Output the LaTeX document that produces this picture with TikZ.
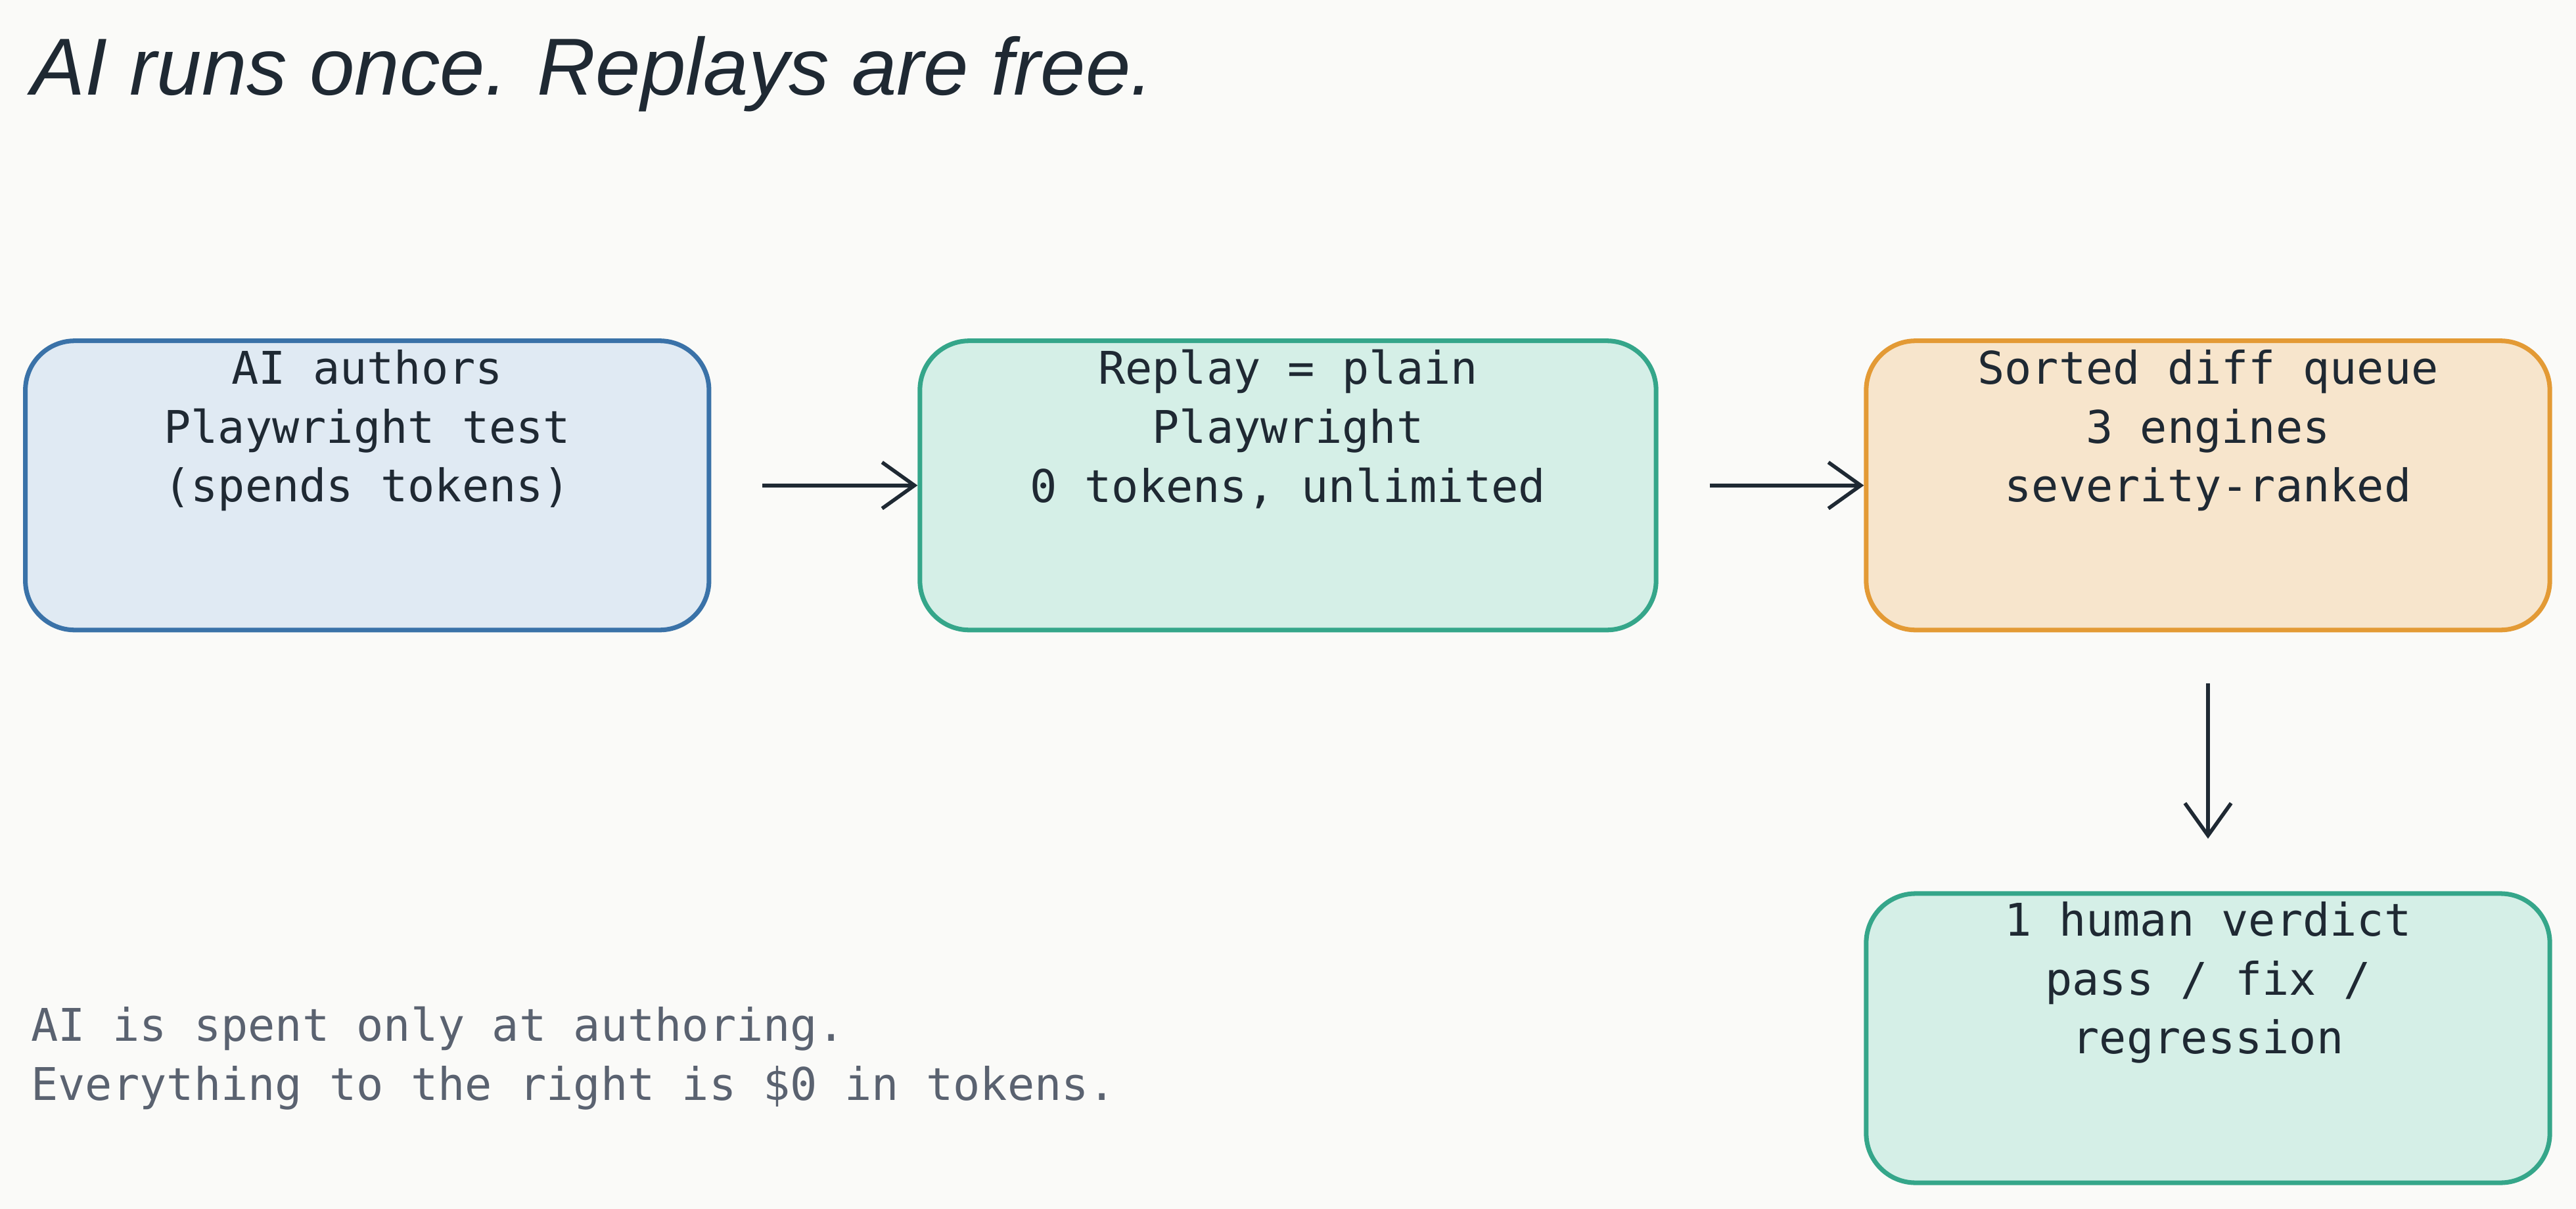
\documentclass[tikz,border=0pt]{standalone}
\usepackage{fontspec}
\setmainfont{Liberation Sans}
\setmonofont{DejaVu Sans Mono}
\usetikzlibrary{arrows.meta}
\definecolor{bgc}{HTML}{FAFAF8}
\definecolor{inkc}{HTML}{1F2933}
\definecolor{grayc}{HTML}{5A6270}
\definecolor{bluefill}{HTML}{E0EAF3}
\definecolor{blueline}{HTML}{3A72A8}
\definecolor{greenfill}{HTML}{D5EFE7}
\definecolor{greenline}{HTML}{35A68A}
\definecolor{orangefill}{HTML}{F7E5CC}
\definecolor{orangeline}{HTML}{E39A35}
\tikzset{
  box/.style={draw, line width=2pt, rounded corners=0.75cm, minimum width=#1, minimum height=4.4cm,
    inner sep=0pt},
  boxtext/.style={font=\ttfamily\fontsize{19.5}{25.5}\selectfont, text=inkc, align=center, anchor=north},
  flow/.style={draw=inkc, line width=1.6pt, -{Straight Barb[length=14pt,width=20pt,line width=1.6pt]}, shorten <=0.78cm}
}
\begin{document}
\begin{tikzpicture}[x=0.025cm,y=-0.025cm]
  \fill[bgc] (0,0) rectangle (1568,736);
  \useasboundingbox (0,0) rectangle (1568,736);

  \node[anchor=west, font=\fontsize{35}{40}\selectfont\itshape, text=inkc] (title) at (14,45) {AI runs once. Replays are free.};

  \node[box=10.4cm, fill=bluefill, draw=blueline] (author) at (223.5,295.5) {};
  \node[box=11.2cm, fill=greenfill, draw=greenline] (replay) at (784,295.5) {};
  \node[box=10.4cm, fill=orangefill, draw=orangeline] (queue) at (1344,295.5) {};
  \node[box=10.4cm, fill=greenfill, draw=greenline] (verdict) at (1344,632) {};

  \node[boxtext] (authortxt) at (223.5,208) {AI authors\\Playwright test\\(spends tokens)};
  \node[boxtext] (replaytxt) at (784,208) {Replay = plain\\Playwright\\0 tokens, unlimited};
  \node[boxtext] (queuetxt) at (1344,208) {Sorted diff queue\\3 engines\\severity-ranked};
  \node[boxtext] (verdicttxt) at (1344,544) {1 human verdict\\pass / fix /\\regression};

  \draw[flow] (author.east) -- (replay.west);
  \draw[flow] (replay.east) -- (queue.west);
  \draw[flow] (queue.south) -- ([yshift=0.8cm]verdict.north);

  \node[anchor=north west, font=\ttfamily\fontsize{19.5}{25.5}\selectfont, text=grayc, align=left] (note) at (14,608)
    {AI is spent only at authoring.\\Everything to the right is \$0 in tokens.};
\end{tikzpicture}
\end{document}
